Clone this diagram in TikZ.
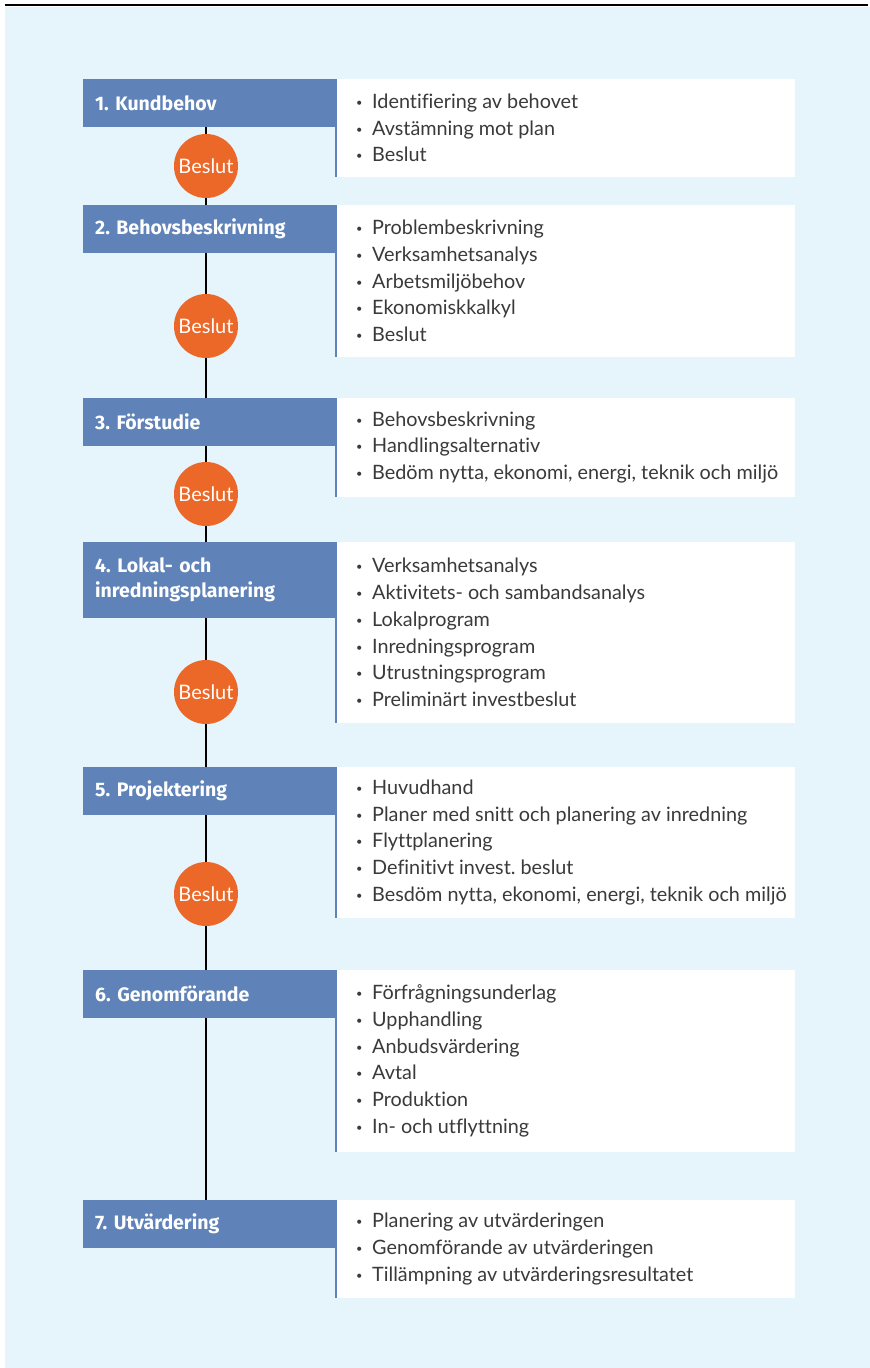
\documentclass[tikz,border=0pt]{standalone}
\usepackage{fontspec}
\setmainfont{Lato}[Ligatures=NoCommon]
\newfontfamily\headfont{Fira Sans}
\frenchspacing
\definecolor{bgblue}{HTML}{E6F4FC}
\definecolor{hdblue}{HTML}{5F83B8}
\definecolor{orng}{HTML}{EB6828}
\definecolor{txt}{HTML}{3A3A3A}
\pgfdeclarelayer{bglayer}
\pgfdeclarelayer{linelayer}
\pgfsetlayers{bglayer,linelayer,main}
\newcommand{\itm}[1]{\makebox[16pt][l]{\fontsize{11pt}{11pt}\selectfont\raisebox{2pt}{•}}#1}
\begin{document}
\begin{tikzpicture}[x=1pt,y=1pt,
  header/.style={fill=hdblue, text=white, anchor=north west, inner sep=0pt,
    minimum width=254pt, align=left, text width=230pt,
    font=\headfont\bfseries\fontsize{19.5pt}{25pt}\selectfont},
  listbox/.style={anchor=west, inner sep=0pt, align=left, text=txt,
    font=\fontsize{19.8pt}{26.7pt}\selectfont},
  beslut/.style={circle, fill=orng, minimum size=64pt, inner sep=0pt, text=white,
    font=\fontsize{20pt}{20pt}\selectfont},
  vline/.style={black, line width=1.3pt},
  lborder/.style={hdblue, line width=2pt}]
\useasboundingbox (0,0) rectangle (870,-1368);
\begin{pgfonlayer}{bglayer}
\fill[bgblue] (5,-7) rectangle (870,-1368);
\draw[black, line width=1.2pt] (5,-5) -- (868,-5);
\end{pgfonlayer}

% white panels
\newcommand{\panel}[3]{%
  \fill[white] (337,-#2) rectangle (795,-#3);
  \coordinate (#1) at (356,-#2/2-#3/2);
  \draw[lborder] (336,-#2) -- (336,-#3);}
\panel{p1}{79}{177}
\panel{p2}{205}{357}
\panel{p3}{398}{497}
\panel{p4}{542}{723}
\panel{p5}{767}{918}
\panel{p6}{970}{1152}
\panel{p7}{1200}{1298}

% circles
\node[beslut] (c1) at (206,-166) {Beslut};
\node[beslut] (c2) at (206,-326) {Beslut};
\node[beslut] (c3) at (206,-494) {Beslut};
\node[beslut] (c4) at (206,-692) {Beslut};
\node[beslut] (c5) at (206,-894) {Beslut};

% headers
\node[header, minimum height=48pt] (h1) at (83,-79) {1. Kundbehov};
\node[header, minimum height=48pt] (h2) at (83,-205) {2. Behovsbeskrivning};
\node[header, minimum height=48pt] (h3) at (83,-398) {3. Förstudie};
\node[header, minimum height=76pt] (h4) at (83,-542) {4. Lokal- och\\inredningsplanering};
\node[header, minimum height=48pt] (h5) at (83,-767) {5. Projektering};
\node[header, minimum height=48pt] (h6) at (83,-970) {6. Genomförande};
\node[header, minimum height=48pt] (h7) at (83,-1200) {7. Utvärdering};

% connectors
\begin{pgfonlayer}{linelayer}
\draw[vline] (c1 |- h1.south) -- (c1);
\draw[vline] (c1) -- (c1 |- h2.north);
\draw[vline] (c2 |- h2.south) -- (c2);
\draw[vline] (c2) -- (c2 |- h3.north);
\draw[vline] (c3 |- h3.south) -- (c3);
\draw[vline] (c3) -- (c3 |- h4.north);
\draw[vline] (c4 |- h4.south) -- (c4);
\draw[vline] (c4) -- (c4 |- h5.north);
\draw[vline] (c5 |- h5.south) -- (c5);
\draw[vline] (c5) -- (c5 |- h6.north);
\draw[vline] (c5 |- h6.south) -- (c5 |- h7.north);
\end{pgfonlayer}

% lists
\node[listbox] (l1) at (p1) {\itm{Identifiering av behovet}\\\itm{Avstämning mot plan}\\\itm{Beslut}};
\node[listbox] (l2) at (p2) {\itm{Problembeskrivning}\\\itm{Verksamhetsanalys}\\\itm{Arbetsmiljöbehov}\\\itm{Ekonomiskkalkyl}\\\itm{Beslut}};
\node[listbox] (l3) at (p3) {\itm{Behovsbeskrivning}\\\itm{Handlingsalternativ}\\\itm{Bedöm nytta, ekonomi, energi, teknik och miljö}};
\node[listbox] (l4) at (p4) {\itm{Verksamhetsanalys}\\\itm{Aktivitets- och sambandsanalys}\\\itm{Lokalprogram}\\\itm{Inredningsprogram}\\\itm{Utrustningsprogram}\\\itm{Preliminärt investbeslut}};
\node[listbox] (l5) at (p5) {\itm{Huvudhand}\\\itm{Planer med snitt och planering av inredning}\\\itm{Flyttplanering}\\\itm{Definitivt invest. beslut}\\\itm{Besdöm nytta, ekonomi, energi, teknik och miljö}};
\node[listbox] (l6) at (p6) {\itm{Förfrågningsunderlag}\\\itm{Upphandling}\\\itm{Anbudsvärdering}\\\itm{Avtal}\\\itm{Produktion}\\\itm{In- och utflyttning}};
\node[listbox] (l7) at (p7) {\itm{Planering av utvärderingen}\\\itm{Genomförande av utvärderingen}\\\itm{Tillämpning av utvärderingsresultatet}};
\end{tikzpicture}
\end{document}
